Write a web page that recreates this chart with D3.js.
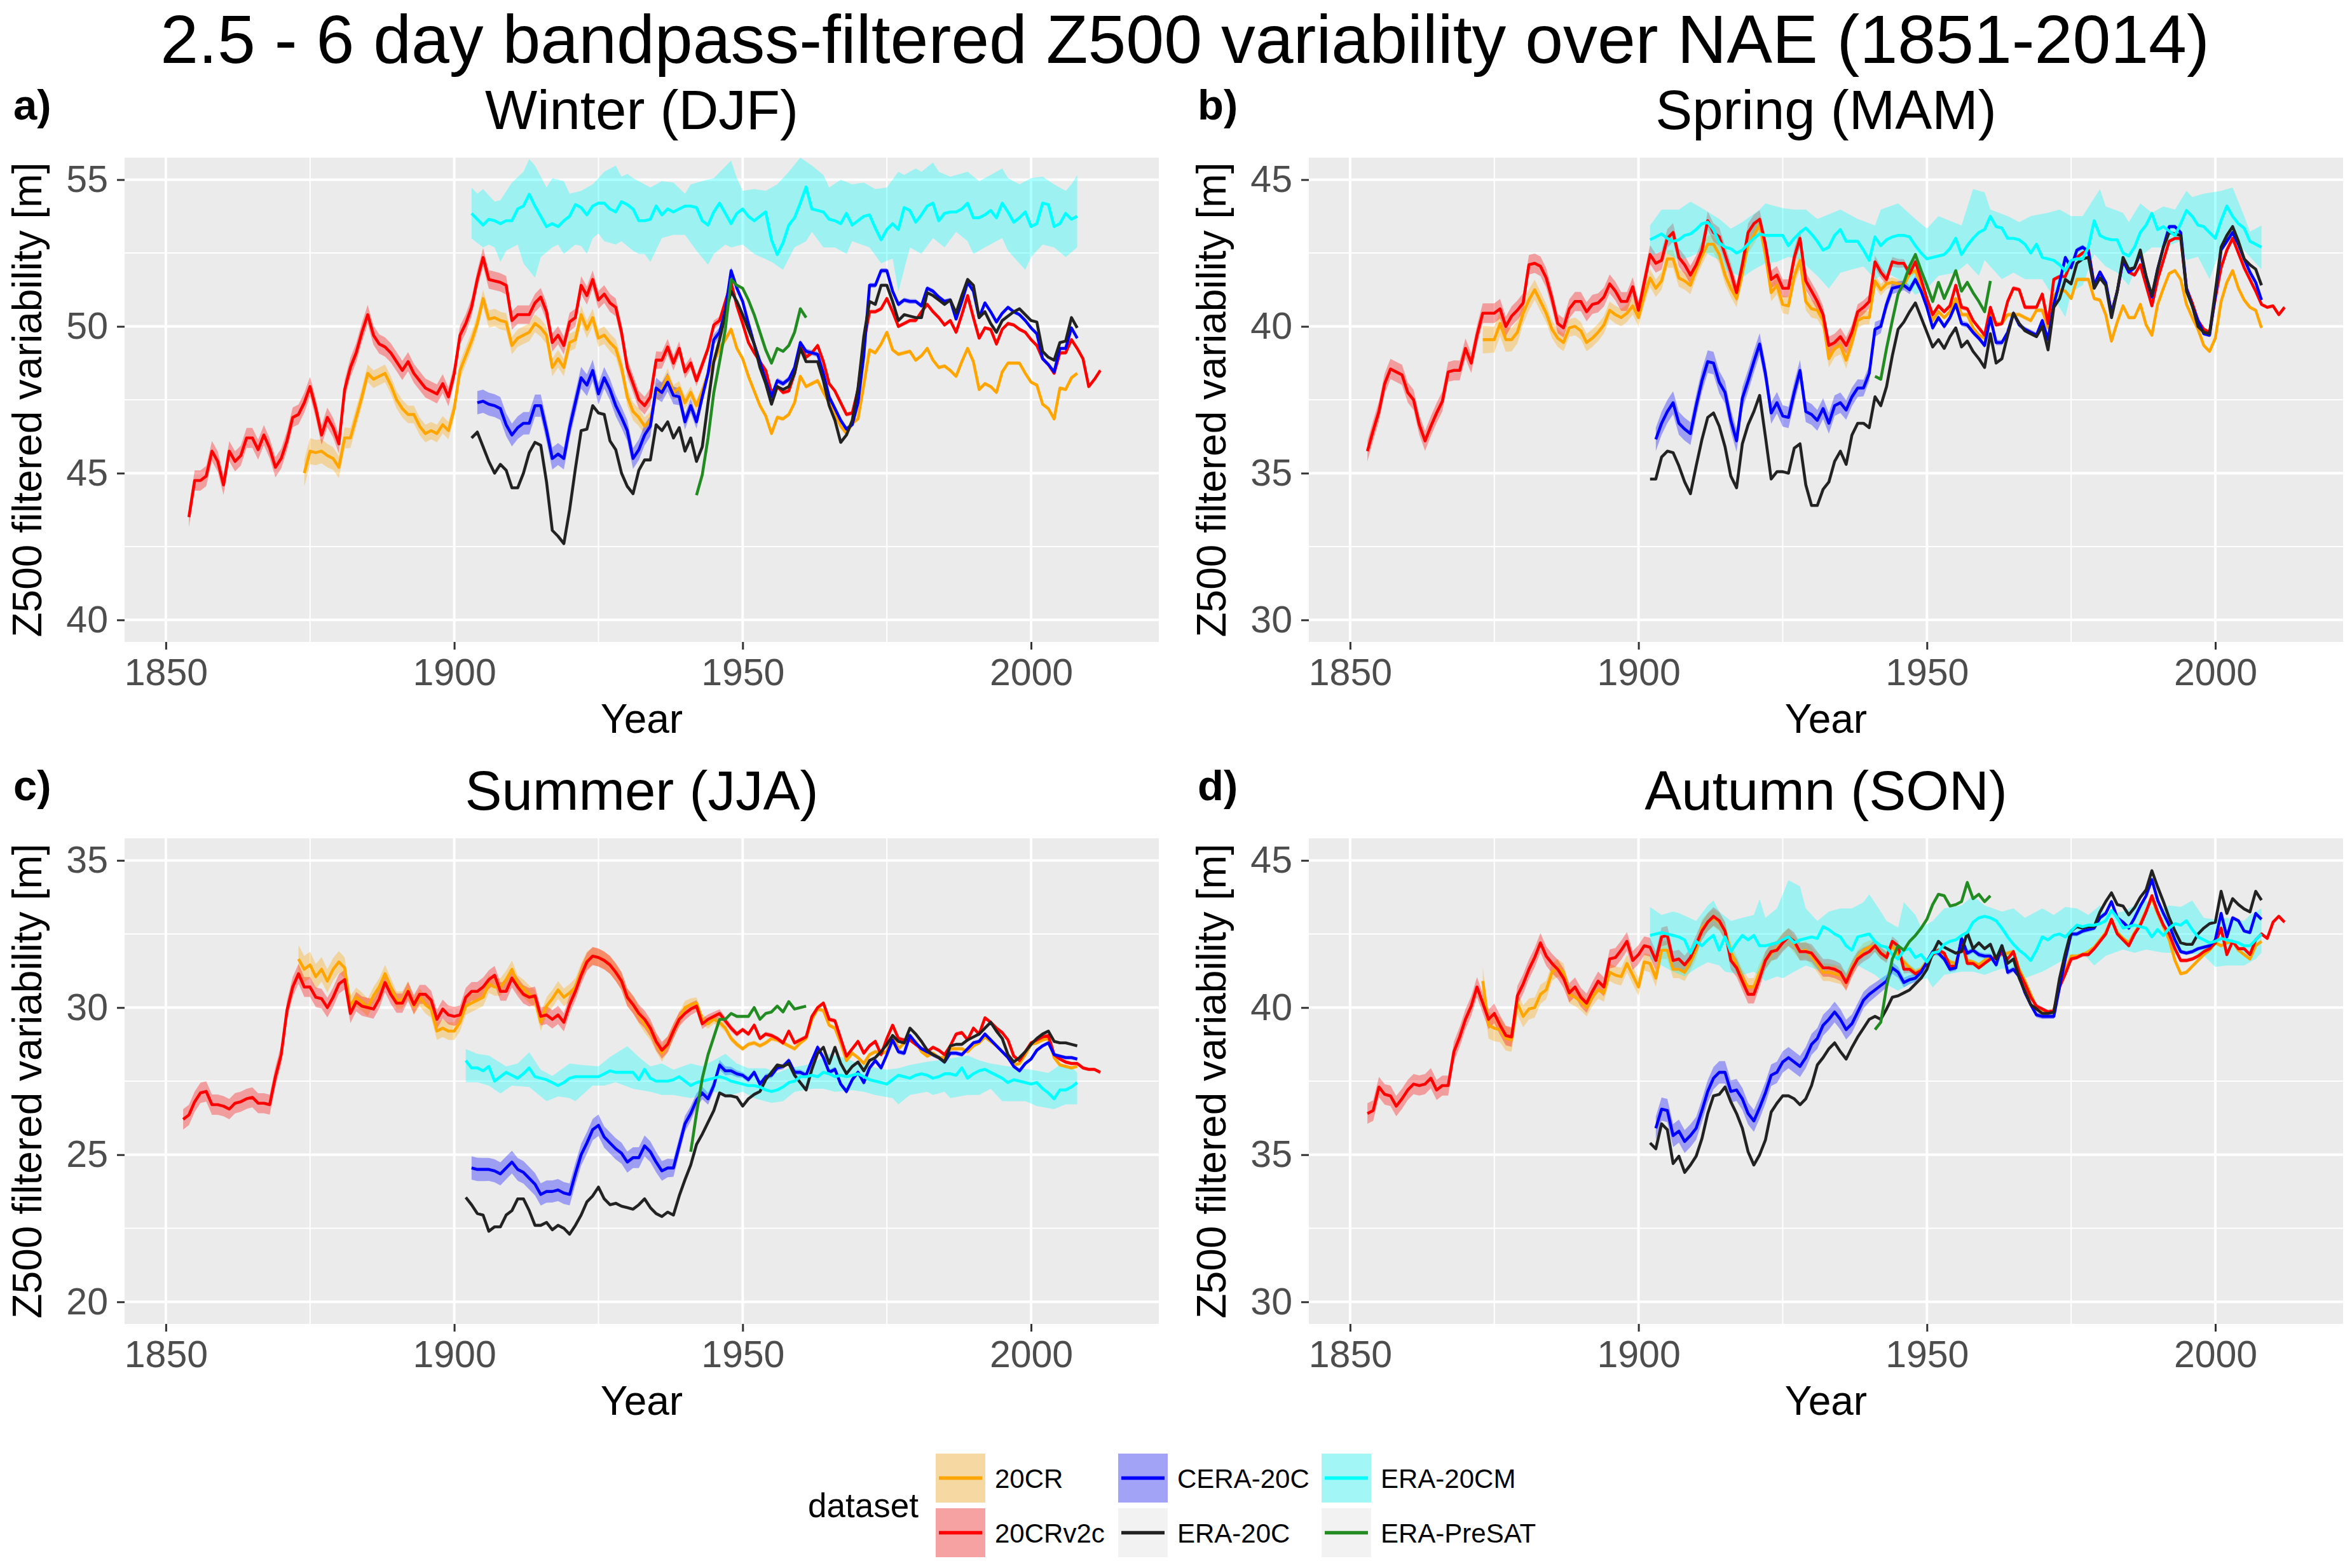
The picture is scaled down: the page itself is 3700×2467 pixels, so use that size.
<!DOCTYPE html>
<html><head><meta charset="utf-8">
<script src="https://cdn.jsdelivr.net/npm/d3@7"></script>
<style>
html,body{margin:0;padding:0;background:#fff}
svg{display:block}
text{font-family:"Liberation Sans",Arial,Helvetica,sans-serif}
</style>
</head><body>
<svg id="chart" width="3700" height="2467"></svg>
<script>
// ---------------- DATA ----------------
const datasetNames = ["20CR","20CRv2c","CERA-20C","ERA-20C","ERA-20CM","ERA-PreSAT"];
const datasetColors = ["#FFA500","#FF0000","#0000FF","#222222","#00FFFF","#228B22"];
const seasonTitles = ["Winter (DJF)","Spring (MAM)","Summer (JJA)","Autumn (SON)"];
const panelLetters = ["a)","b)","c)","d)"];
const yLimits = [[40,55],[30,45],[20,35],[30,45]];
const yTicksDJF = [40,45,50,55];
const yTicksMAM = [30,35,40,45];
const yTicksJJA = [20,25,30,35];
const yTicksSON = [30,35,40,45];
const xTicks = [1850,1900,1950,2000];
const xMinorTicks = [1875,1925,1975];
const yearRange = [1851,2014];

// ensemble half-spread of the reanalysis ribbons [year, m]
const spread20CR    = [[1871,0.5],[1885,0.3],[1935,0.3],[1950,0.08],[2012,0.06]];
const spread20CRv2c = [[1851,0.35],[1935,0.3],[1950,0.08],[2014,0.06]];
const spreadCERA    = [[1901,0.4],[1935,0.35],[1950,0.1],[2010,0.06]];

// ---- Winter (DJF) ----
const djf20CRv2c = [[1854,43.5],[1855,44.75],[1856,44.75],[1857,44.9],[1858,45.75],[1859,45.4],[1860,44.6],[1861,45.75],[1862,45.4],[1863,45.6],[1864,46.2],[1865,46.2],[1866,45.8],[1867,46.3],[1868,45.85],[1869,45.2],[1870,45.5],[1871,46.1],[1872,46.9],[1873,47.0],[1874,47.4],[1875,47.95],[1876,47.2],[1877,46.3],[1878,46.9],[1879,46.55],[1880,46.0],[1881,47.85],[1882,48.6],[1883,49.1],[1884,49.8],[1885,50.4],[1886,49.7],[1887,49.4],[1888,49.3],[1889,49.1],[1890,48.8],[1891,48.5],[1892,48.8],[1893,48.4],[1894,48.15],[1895,47.9],[1896,47.8],[1897,47.7],[1898,48.05],[1899,47.6],[1900,48.4],[1901,49.7],[1902,50.1],[1903,50.65],[1904,51.6],[1905,52.35],[1906,51.6],[1907,51.55],[1908,51.5],[1909,51.4],[1910,50.2],[1911,50.4],[1912,50.4],[1913,50.4],[1914,50.8],[1915,51.0],[1916,50.5],[1917,49.45],[1918,49.7],[1919,49.35],[1920,50.15],[1921,50.3],[1922,51.4],[1923,51.05],[1924,51.6],[1925,50.9],[1926,51.1],[1927,50.8],[1928,50.65],[1929,49.8],[1930,48.6],[1931,48.05],[1932,47.5],[1933,47.3],[1934,47.6],[1935,48.85],[1936,48.85],[1937,49.3],[1938,48.75],[1939,49.25],[1940,48.45],[1941,48.75],[1942,48.15],[1943,48.7],[1944,49.25],[1945,50.05],[1946,50.2],[1947,50.85],[1948,51.5],[1949,50.7],[1950,50.1],[1951,49.45],[1952,49.1],[1953,48.8],[1954,48.5],[1955,47.75],[1956,47.95],[1957,47.75],[1958,47.8],[1959,48.4],[1960,49.35],[1961,48.95],[1962,49.1],[1963,49.35],[1964,48.8],[1965,48.05],[1966,47.8],[1967,47.4],[1968,47.0],[1969,47.05],[1970,47.85],[1971,49.45],[1972,50.5],[1973,50.5],[1974,50.6],[1975,50.95],[1976,50.5],[1977,50.0],[1978,50.1],[1979,50.2],[1980,50.2],[1981,50.5],[1982,50.75],[1983,50.5],[1984,50.3],[1985,50.05],[1986,50.2],[1987,49.8],[1988,50.4],[1989,51.05],[1990,50.3],[1991,49.6],[1992,49.95],[1993,49.9],[1994,49.4],[1995,49.9],[1996,50.1],[1997,50.05],[1998,49.9],[1999,49.8],[2000,49.55],[2001,49.35],[2002,48.9],[2003,48.7],[2004,48.4],[2005,49.1],[2006,49.1],[2007,49.55],[2008,49.25],[2009,48.9],[2010,47.95],[2011,48.2],[2012,48.5]];
const djf20CR = [[1874,45.0],[1875,45.75],[1876,45.7],[1877,45.75],[1878,45.6],[1879,45.5],[1880,45.2],[1881,46.2],[1882,46.2],[1883,46.9],[1884,47.6],[1885,48.4],[1886,48.2],[1887,48.3],[1888,48.4],[1889,48.0],[1890,47.5],[1891,47.2],[1892,47.0],[1893,47.0],[1894,46.6],[1895,46.35],[1896,46.45],[1897,46.35],[1898,46.65],[1899,46.45],[1900,47.2],[1901,48.5],[1902,49.0],[1903,49.5],[1904,50.1],[1905,50.95],[1906,50.25],[1907,50.3],[1908,50.2],[1909,50.15],[1910,49.35],[1911,49.6],[1912,49.7],[1913,49.8],[1914,50.1],[1915,49.95],[1916,49.7],[1917,48.6],[1918,48.9],[1919,48.6],[1920,49.45],[1921,49.55],[1922,50.4],[1923,49.9],[1924,50.3],[1925,49.6],[1926,49.7],[1927,49.45],[1928,49.25],[1929,48.6],[1930,47.6],[1931,47.1],[1932,46.9],[1933,46.6],[1934,46.8],[1935,47.75],[1936,47.85],[1937,48.3],[1938,47.75],[1939,47.9],[1940,47.4],[1941,47.75],[1942,47.3],[1943,47.8],[1944,48.4],[1945,48.8],[1946,49.25],[1947,49.55],[1948,49.9],[1949,49.25],[1950,48.9],[1951,48.3],[1952,47.8],[1953,47.3],[1954,46.95],[1955,46.35],[1956,46.9],[1957,46.85],[1958,47.0],[1959,47.4],[1960,48.3],[1961,47.95],[1962,48.05],[1963,48.15],[1964,47.75],[1965,47.4],[1966,47.0],[1967,46.6],[1968,46.35],[1969,46.7],[1970,46.85],[1971,48.0],[1972,49.2],[1973,49.1],[1974,49.4],[1975,49.8],[1976,49.2],[1977,49.05],[1978,49.1],[1979,49.15],[1980,48.85],[1981,49.0],[1982,49.25],[1983,48.85],[1984,48.6],[1985,48.65],[1986,48.5],[1987,48.3],[1988,48.8],[1989,49.25],[1990,48.8],[1991,47.85],[1992,48.05],[1993,47.95],[1994,47.75],[1995,48.45],[1996,48.75],[1997,48.75],[1998,48.75],[1999,48.4],[2000,48.1],[2001,48.0],[2002,47.35],[2003,47.2],[2004,46.85],[2005,47.9],[2006,47.85],[2007,48.25],[2008,48.4]];
const djfCERA20C = [[1904,47.4],[1905,47.45],[1906,47.35],[1907,47.3],[1908,47.2],[1909,46.65],[1910,46.3],[1911,46.55],[1912,46.7],[1913,46.7],[1914,47.3],[1915,47.3],[1916,46.45],[1917,45.5],[1918,45.65],[1919,45.5],[1920,46.55],[1921,47.4],[1922,48.25],[1923,48.0],[1924,48.5],[1925,47.7],[1926,48.25],[1927,47.85],[1928,47.3],[1929,46.9],[1930,46.45],[1931,45.5],[1932,45.8],[1933,46.3],[1934,46.6],[1935,47.9],[1936,47.75],[1937,48.1],[1938,47.65],[1939,47.6],[1940,46.75],[1941,47.3],[1942,46.75],[1943,47.6],[1944,48.4],[1945,49.55],[1946,49.8],[1947,50.55],[1948,51.9],[1949,51.3],[1950,50.85],[1951,50.1],[1952,49.4],[1953,48.8],[1954,48.15],[1955,47.6],[1956,48.15],[1957,48.05],[1958,48.2],[1959,48.6],[1960,49.45],[1961,49.15],[1962,49.1],[1963,49.05],[1964,48.4],[1965,47.6],[1966,47.2],[1967,46.8],[1968,46.5],[1969,46.65],[1970,47.4],[1971,49.0],[1972,51.4],[1973,51.4],[1974,51.9],[1975,51.9],[1976,51.2],[1977,50.75],[1978,50.9],[1979,50.85],[1980,50.85],[1981,50.7],[1982,51.3],[1983,51.2],[1984,51.0],[1985,50.85],[1986,50.9],[1987,50.25],[1988,50.85],[1989,51.5],[1990,51.2],[1991,50.3],[1992,50.8],[1993,50.5],[1994,50.15],[1995,50.45],[1996,50.65],[1997,50.5],[1998,50.4],[1999,50.2],[2000,49.95],[2001,49.75],[2002,48.9],[2003,48.7],[2004,48.45],[2005,49.25],[2006,49.25],[2007,49.95],[2008,49.6]];
const djfERA20C = [[1903,46.2],[1904,46.4],[1905,45.9],[1906,45.4],[1907,45.0],[1908,45.3],[1909,45.1],[1910,44.5],[1911,44.5],[1912,45.0],[1913,45.7],[1914,46.05],[1915,45.95],[1916,44.7],[1917,43.05],[1918,42.85],[1919,42.6],[1920,43.75],[1921,45.15],[1922,46.45],[1923,46.5],[1924,47.3],[1925,47.05],[1926,47.0],[1927,46.1],[1928,45.8],[1929,45.0],[1930,44.55],[1931,44.3],[1932,45.1],[1933,45.45],[1934,45.45],[1935,46.65],[1936,46.45],[1937,46.75],[1938,46.2],[1939,46.55],[1940,45.75],[1941,46.2],[1942,45.4],[1943,45.9],[1944,47.4],[1945,48.8],[1946,49.55],[1947,50.4],[1948,51.2],[1949,50.85],[1950,50.4],[1951,49.9],[1952,49.4],[1953,48.6],[1954,48.05],[1955,47.35],[1956,47.95],[1957,47.85],[1958,47.95],[1959,48.4],[1960,49.25],[1961,48.8],[1962,48.8],[1963,48.8],[1964,48.15],[1965,47.3],[1966,46.8],[1967,46.05],[1968,46.3],[1969,46.8],[1970,47.9],[1971,49.65],[1972,50.85],[1973,50.75],[1974,51.4],[1975,51.4],[1976,50.85],[1977,50.2],[1978,50.4],[1979,50.35],[1980,50.3],[1981,50.3],[1982,51.15],[1983,51.05],[1984,50.9],[1985,50.75],[1986,50.9],[1987,50.45],[1988,51.05],[1989,51.6],[1990,51.4],[1991,50.3],[1992,50.5],[1993,50.1],[1994,49.8],[1995,50.2],[1996,50.35],[1997,50.5],[1998,50.6],[1999,50.4],[2000,50.2],[2001,50.15],[2002,49.15],[2003,48.95],[2004,48.85],[2005,49.45],[2006,49.5],[2007,50.3],[2008,49.95]];
const djfERA20CM = [[1903,53.85],[1904,53.65],[1905,53.45],[1906,53.65],[1907,53.6],[1908,53.5],[1909,53.6],[1910,53.6],[1911,54.0],[1912,54.1],[1913,54.5],[1914,54.1],[1915,53.75],[1916,53.4],[1917,53.5],[1918,53.4],[1919,53.6],[1920,53.75],[1921,54.15],[1922,54.05],[1923,53.8],[1924,54.1],[1925,54.2],[1926,54.2],[1927,54.0],[1928,53.9],[1929,54.25],[1930,54.15],[1931,54.0],[1932,53.6],[1933,53.6],[1934,53.65],[1935,54.1],[1936,53.8],[1937,54.0],[1938,53.9],[1939,54.0],[1940,54.1],[1941,54.1],[1942,54.05],[1943,53.6],[1944,53.45],[1945,53.9],[1946,54.2],[1947,53.85],[1948,53.5],[1949,53.85],[1950,54.0],[1951,53.75],[1952,53.6],[1953,53.75],[1954,53.9],[1955,52.95],[1956,52.45],[1957,52.85],[1958,53.45],[1959,53.7],[1960,54.2],[1961,54.75],[1962,54.0],[1963,53.95],[1964,53.9],[1965,53.65],[1966,53.6],[1967,53.5],[1968,53.85],[1969,53.45],[1970,53.6],[1971,53.75],[1972,53.8],[1973,53.35],[1974,52.95],[1975,53.3],[1976,53.5],[1977,53.3],[1978,54.05],[1979,53.95],[1980,53.55],[1981,53.8],[1982,54.1],[1983,54.2],[1984,53.6],[1985,53.85],[1986,53.9],[1987,53.9],[1988,54.0],[1989,54.2],[1990,53.7],[1991,53.7],[1992,53.8],[1993,53.95],[1994,53.7],[1995,54.2],[1996,53.9],[1997,53.55],[1998,53.7],[1999,53.9],[2000,53.4],[2001,53.5],[2002,54.2],[2003,54.15],[2004,53.4],[2005,53.5],[2006,53.85],[2007,53.65],[2008,53.75]];
const djfERA20CMhi = [[1903,54.73],[1904,54.52],[1905,54.68],[1907,54.25],[1908,54.3],[1910,54.9],[1912,55.27],[1913,55.7],[1914,55.48],[1916,54.73],[1917,55.05],[1919,54.95],[1920,54.52],[1922,54.62],[1924,54.84],[1925,55.05],[1926,55.27],[1928,55.48],[1929,55.1],[1930,55.2],[1931,55.05],[1932,54.95],[1934,54.73],[1936,54.95],[1938,54.9],[1940,54.52],[1941,54.84],[1943,54.95],[1945,55.05],[1948,55.65],[1949,55.05],[1950,54.62],[1952,54.68],[1954,54.62],[1956,54.84],[1958,55.27],[1960,55.75],[1962,55.48],[1964,55.16],[1965,54.73],[1967,55.0],[1969,54.84],[1971,54.9],[1973,54.68],[1975,54.73],[1977,55.27],[1978,55.16],[1980,55.38],[1981,55.27],[1983,55.59],[1984,55.27],[1986,55.1],[1989,55.27],[1991,54.95],[1993,55.16],[1995,55.38],[1996,55.05],[1998,54.84],[2000,55.05],[2002,55.1],[2004,54.84],[2006,54.62],[2007,54.84],[2008,55.16]];
const djfERA20CMlo = [[1903,53.0],[1905,52.69],[1906,52.79],[1907,52.69],[1908,52.2],[1909,52.58],[1911,52.79],[1912,52.15],[1914,51.66],[1915,52.36],[1917,52.69],[1918,52.79],[1919,52.47],[1921,52.79],[1922,52.74],[1923,52.47],[1924,53.0],[1925,53.17],[1926,52.9],[1928,52.79],[1929,52.9],[1931,52.58],[1932,52.47],[1933,52.47],[1934,52.2],[1936,53.01],[1938,53.12],[1940,53.12],[1942,52.58],[1944,52.1],[1945,52.47],[1947,52.79],[1948,52.69],[1950,52.79],[1952,52.47],[1955,52.2],[1957,51.93],[1959,52.69],[1961,52.9],[1962,53.22],[1964,52.69],[1966,52.69],[1968,52.47],[1969,52.9],[1972,52.69],[1974,52.15],[1976,52.31],[1977,51.18],[1979,52.69],[1981,52.47],[1983,53.01],[1985,52.69],[1987,53.22],[1989,52.9],[1990,52.47],[1992,52.69],[1995,53.01],[1996,52.58],[1999,51.93],[2000,52.36],[2002,52.79],[2004,52.69],[2006,52.36],[2008,52.69]];
const djfPreSAT = [[1942,44.25],[1943,44.95],[1944,46.2],[1945,47.75],[1946,48.8],[1947,49.9],[1948,51.6],[1949,51.4],[1950,51.3],[1951,50.9],[1952,50.4],[1953,49.8],[1954,49.2],[1955,48.75],[1956,49.25],[1957,49.15],[1958,49.35],[1959,49.8],[1960,50.6],[1961,50.3]];

// ---- Spring (MAM) ----
const mam20CRv2c = [[1853,35.75],[1854,36.45],[1855,37.1],[1856,38.05],[1857,38.55],[1858,38.45],[1859,38.35],[1860,37.75],[1861,37.5],[1862,36.65],[1863,36.1],[1864,36.6],[1865,37.05],[1866,37.45],[1867,38.45],[1868,38.5],[1869,38.5],[1870,39.25],[1871,38.75],[1872,39.7],[1873,40.45],[1874,40.45],[1875,40.45],[1876,40.6],[1877,40.0],[1878,40.35],[1879,40.55],[1880,40.8],[1881,42.1],[1882,42.15],[1883,42.05],[1884,41.65],[1885,40.95],[1886,40.1],[1887,39.95],[1888,40.6],[1889,40.85],[1890,40.85],[1891,40.5],[1892,40.75],[1893,40.8],[1894,41.0],[1895,41.45],[1896,41.2],[1897,40.85],[1898,40.85],[1899,41.35],[1900,40.55],[1901,41.5],[1902,42.45],[1903,42.15],[1904,42.25],[1905,43.0],[1906,43.2],[1907,42.35],[1908,42.1],[1909,41.75],[1910,42.1],[1911,42.6],[1912,43.6],[1913,43.2],[1914,43.05],[1915,42.45],[1916,41.85],[1917,41.15],[1918,42.1],[1919,43.2],[1920,43.5],[1921,43.65],[1922,42.8],[1923,41.6],[1924,41.75],[1925,41.3],[1926,41.3],[1927,42.35],[1928,43.0],[1929,41.55],[1930,41.2],[1931,40.85],[1932,40.4],[1933,39.35],[1934,39.45],[1935,39.65],[1936,39.35],[1937,39.8],[1938,40.5],[1939,40.65],[1940,40.85],[1941,42.2],[1942,41.85],[1943,41.6],[1944,42.2],[1945,42.15],[1946,42.15],[1947,41.8],[1948,42.2],[1949,41.6],[1950,40.95],[1951,40.4],[1952,40.7],[1953,40.5],[1954,40.7],[1955,41.4],[1956,40.65],[1957,40.6],[1958,40.2],[1959,39.95],[1960,39.7],[1961,40.65],[1962,40.05],[1963,40.1],[1964,40.85],[1965,41.3],[1966,41.25],[1967,40.65],[1968,40.65],[1969,40.65],[1970,41.1],[1971,40.1],[1972,41.6],[1973,41.7],[1974,41.7],[1975,42.2],[1976,42.35],[1977,42.5],[1978,42.6],[1979,41.4],[1980,41.85],[1981,41.45],[1982,40.45],[1983,41.2],[1984,42.25],[1985,41.85],[1986,41.75],[1987,42.1],[1988,41.4],[1989,40.7],[1990,41.6],[1991,42.25],[1992,42.9],[1993,43.0],[1994,43.0],[1995,41.3],[1996,40.8],[1997,40.2],[1998,39.9],[1999,39.8],[2000,40.95],[2001,42.0],[2002,42.6],[2003,43.0],[2004,42.5],[2005,42.0],[2006,41.6],[2007,41.2],[2008,40.75],[2009,40.65],[2010,40.7],[2011,40.4],[2012,40.65]];
const mam20CR = [[1873,39.55],[1874,39.55],[1875,39.55],[1876,40.1],[1877,39.55],[1878,39.55],[1879,39.8],[1880,40.45],[1881,40.9],[1882,41.25],[1883,40.85],[1884,40.45],[1885,39.9],[1886,39.6],[1887,39.45],[1888,39.95],[1889,40.0],[1890,39.85],[1891,39.45],[1892,39.6],[1893,39.8],[1894,40.05],[1895,40.55],[1896,40.4],[1897,40.3],[1898,40.45],[1899,40.7],[1900,40.3],[1901,41.05],[1902,41.65],[1903,41.3],[1904,41.55],[1905,42.3],[1906,42.3],[1907,41.65],[1908,41.55],[1909,41.4],[1910,41.95],[1911,42.4],[1912,42.8],[1913,42.8],[1914,42.45],[1915,41.75],[1916,41.3],[1917,40.95],[1918,41.8],[1919,42.8],[1920,43.1],[1921,43.45],[1922,42.45],[1923,41.15],[1924,41.4],[1925,40.75],[1926,40.7],[1927,41.7],[1928,42.25],[1929,40.85],[1930,40.6],[1931,40.55],[1932,40.2],[1933,38.9],[1934,39.25],[1935,39.35],[1936,38.85],[1937,39.45],[1938,40.2],[1939,40.3],[1940,40.3],[1941,41.55],[1942,41.25],[1943,41.45],[1944,41.5],[1945,41.45],[1946,41.4],[1947,41.8],[1948,41.9],[1949,41.4],[1950,40.85],[1951,40.2],[1952,40.5],[1953,40.3],[1954,40.5],[1955,40.95],[1956,40.4],[1957,40.4],[1958,39.95],[1959,39.7],[1960,39.6],[1961,40.4],[1962,40.1],[1963,40.1],[1964,40.4],[1965,40.4],[1966,40.4],[1967,40.3],[1968,40.2],[1969,40.55],[1970,40.55],[1971,39.95],[1972,41.05],[1973,41.25],[1974,41.2],[1975,40.95],[1976,41.6],[1977,41.6],[1978,41.6],[1979,40.95],[1980,40.9],[1981,40.4],[1982,39.5],[1983,40.15],[1984,40.7],[1985,40.3],[1986,40.3],[1987,40.75],[1988,40.05],[1989,39.7],[1990,40.75],[1991,41.3],[1992,41.8],[1993,41.9],[1994,41.6],[1995,40.75],[1996,40.3],[1997,39.9],[1998,39.35],[1999,39.15],[2000,39.6],[2001,40.85],[2002,41.5],[2003,41.9],[2004,41.3],[2005,40.9],[2006,40.65],[2007,40.55],[2008,39.95]];
const mamCERA20C = [[1903,36.15],[1904,36.7],[1905,37.1],[1906,37.4],[1907,36.7],[1908,36.5],[1909,36.35],[1910,37.3],[1911,38.15],[1912,38.8],[1913,38.75],[1914,38.1],[1915,37.75],[1916,36.8],[1917,36.1],[1918,37.55],[1919,38.15],[1920,38.8],[1921,39.4],[1922,38.4],[1923,37.05],[1924,37.4],[1925,36.95],[1926,36.9],[1927,37.75],[1928,38.5],[1929,37.1],[1930,37.0],[1931,36.8],[1932,37.2],[1933,36.7],[1934,37.3],[1935,37.4],[1936,37.15],[1937,37.6],[1938,37.9],[1939,37.9],[1940,38.4],[1941,39.9],[1942,40.0],[1943,40.75],[1944,41.3],[1945,41.35],[1946,41.4],[1947,41.25],[1948,41.6],[1949,41.2],[1950,40.65],[1951,39.95],[1952,40.3],[1953,40.0],[1954,40.3],[1955,40.75],[1956,40.1],[1957,40.05],[1958,39.8],[1959,39.6],[1960,39.35],[1961,40.3],[1962,39.45],[1963,39.45],[1964,39.8],[1965,40.45],[1966,40.05],[1967,39.9],[1968,39.8],[1969,39.7],[1970,40.2],[1971,39.55],[1972,40.75],[1973,41.5],[1974,42.35],[1975,42.0],[1976,42.6],[1977,42.7],[1978,42.55],[1979,41.4],[1980,41.85],[1981,41.5],[1982,40.45],[1983,41.2],[1984,42.25],[1985,41.85],[1986,42.0],[1987,42.5],[1988,41.7],[1989,41.0],[1990,41.95],[1991,42.7],[1992,43.4],[1993,43.4],[1994,43.2],[1995,41.3],[1996,40.7],[1997,40.2],[1998,39.75],[1999,39.7],[2000,41.05],[2001,42.6],[2002,42.9],[2003,43.2],[2004,42.8],[2005,42.3],[2006,41.85],[2007,41.5],[2008,40.9]];
const mamERA20C = [[1902,34.8],[1903,34.8],[1904,35.55],[1905,35.75],[1906,35.7],[1907,35.25],[1908,34.7],[1909,34.3],[1910,35.25],[1911,36.15],[1912,36.9],[1913,37.05],[1914,36.6],[1915,35.9],[1916,34.9],[1917,34.5],[1918,36.0],[1919,36.65],[1920,37.1],[1921,37.65],[1922,36.25],[1923,34.8],[1924,35.05],[1925,35.05],[1926,35.0],[1927,35.85],[1928,36.0],[1929,34.6],[1930,33.9],[1931,33.9],[1932,34.45],[1933,34.7],[1934,35.4],[1935,35.75],[1936,35.3],[1937,36.3],[1938,36.7],[1939,36.7],[1940,36.55],[1941,37.6],[1942,37.3],[1943,37.95],[1944,39.0],[1945,39.9],[1946,40.15],[1947,40.5],[1948,40.8],[1949,40.3],[1950,39.8],[1951,39.3],[1952,39.55],[1953,39.25],[1954,39.65],[1955,39.95],[1956,39.3],[1957,39.5],[1958,39.15],[1959,38.9],[1960,38.6],[1961,39.75],[1962,38.75],[1963,38.9],[1964,39.7],[1965,40.45],[1966,40.1],[1967,39.85],[1968,39.75],[1969,39.65],[1970,40.0],[1971,39.2],[1972,40.65],[1973,40.95],[1974,41.6],[1975,41.45],[1976,42.15],[1977,42.3],[1978,42.35],[1979,41.3],[1980,41.65],[1981,41.4],[1982,40.3],[1983,41.2],[1984,42.35],[1985,41.95],[1986,42.0],[1987,42.6],[1988,41.7],[1989,41.05],[1990,41.95],[1991,42.7],[1992,43.2],[1993,43.15],[1994,43.1],[1995,41.2],[1996,40.7],[1997,40.0],[1998,39.8],[1999,39.75],[2000,41.2],[2001,42.7],[2002,43.1],[2003,43.4],[2004,42.9],[2005,42.3],[2006,42.1],[2007,41.95],[2008,41.4]];
const mamERA20CM = [[1902,42.95],[1903,43.05],[1904,43.15],[1905,43.0],[1906,42.9],[1907,42.95],[1908,43.1],[1909,43.15],[1910,43.3],[1911,43.5],[1912,43.55],[1913,43.3],[1914,42.85],[1915,42.7],[1916,42.65],[1917,42.5],[1918,42.6],[1919,42.8],[1920,43.0],[1921,43.15],[1922,43.1],[1923,43.1],[1924,43.1],[1925,43.1],[1926,42.75],[1927,43.0],[1928,43.2],[1929,43.35],[1930,43.15],[1931,42.9],[1932,42.6],[1933,42.7],[1934,43.1],[1935,43.3],[1936,42.9],[1937,42.9],[1938,42.9],[1939,42.6],[1940,42.25],[1941,43.05],[1942,42.75],[1943,42.95],[1944,43.05],[1945,43.1],[1946,43.1],[1947,43.05],[1948,42.75],[1949,42.5],[1950,42.3],[1951,42.35],[1952,42.4],[1953,42.45],[1954,42.65],[1955,43.0],[1956,42.45],[1957,42.75],[1958,43.0],[1959,43.2],[1960,43.3],[1961,43.75],[1962,43.4],[1963,43.35],[1964,43.0],[1965,43.0],[1966,42.95],[1967,42.8],[1968,42.5],[1969,42.8],[1970,42.35],[1971,42.3],[1972,42.25],[1973,42.1],[1974,41.9],[1975,42.25],[1976,42.3],[1977,42.3],[1978,42.7],[1979,43.6],[1980,43.1],[1981,43.0],[1982,42.95],[1983,42.95],[1984,42.5],[1985,42.4],[1986,42.7],[1987,43.2],[1988,43.45],[1989,43.85],[1990,43.3],[1991,43.4],[1992,43.25],[1993,43.1],[1994,43.5],[1995,43.95],[1996,43.75],[1997,43.45],[1998,43.4],[1999,43.2],[2000,43.0],[2001,43.6],[2002,44.1],[2003,43.75],[2004,43.5],[2005,43.35],[2006,42.9],[2007,42.8],[2008,42.7]];
const mamERA20CMhi = [[1902,43.44],[1904,43.98],[1907,43.98],[1909,44.25],[1911,44.03],[1914,43.66],[1916,43.33],[1918,43.55],[1921,43.98],[1922,44.19],[1925,44.03],[1927,43.98],[1929,43.98],[1931,43.66],[1935,43.98],[1938,43.66],[1941,43.44],[1942,43.98],[1945,44.19],[1948,43.66],[1950,43.33],[1952,43.76],[1956,43.44],[1958,44.68],[1960,44.57],[1961,43.98],[1964,43.76],[1966,43.55],[1968,43.76],[1971,43.87],[1973,43.98],[1975,43.76],[1977,43.76],[1980,44.68],[1981,44.09],[1984,43.87],[1985,43.55],[1987,44.19],[1989,43.87],[1991,44.09],[1993,43.98],[1995,44.62],[1996,44.41],[1998,44.52],[2001,44.62],[2003,44.73],[2005,43.76],[2006,43.23],[2008,43.44]];
const mamERA20CMlo = [[1902,42.37],[1904,42.58],[1907,42.26],[1909,42.37],[1911,42.58],[1914,42.26],[1915,41.94],[1918,41.67],[1920,41.94],[1922,42.15],[1924,42.2],[1926,42.37],[1928,42.26],[1931,41.72],[1933,41.29],[1935,41.83],[1937,41.94],[1939,42.04],[1941,41.61],[1943,41.83],[1946,41.51],[1948,41.08],[1950,41.29],[1952,41.72],[1955,41.83],[1957,42.15],[1959,41.72],[1960,42.26],[1963,41.61],[1965,41.83],[1967,41.61],[1970,41.61],[1972,40.97],[1974,40.32],[1975,41.18],[1977,41.4],[1979,42.47],[1981,42.04],[1983,41.83],[1985,41.4],[1987,42.37],[1989,42.69],[1991,42.69],[1994,42.9],[1995,42.26],[1997,42.37],[1999,41.61],[2001,42.69],[2003,43.01],[2006,42.37],[2008,41.94]];
const mamPreSAT = [[1941,38.3],[1942,38.2],[1943,39.25],[1944,40.2],[1945,41.1],[1946,41.5],[1947,42.05],[1948,42.45],[1949,41.9],[1950,41.4],[1951,40.85],[1952,41.5],[1953,40.95],[1954,41.4],[1955,41.9],[1956,41.2],[1957,41.5],[1958,41.15],[1959,40.85],[1960,40.5],[1961,41.55]];

// ---- Summer (JJA) ----
const jja20CRv2c = [[1853,26.2],[1854,26.35],[1855,26.8],[1856,27.1],[1857,27.15],[1858,26.7],[1859,26.7],[1860,26.65],[1861,26.55],[1862,26.75],[1863,26.8],[1864,26.9],[1865,26.95],[1866,26.75],[1867,26.75],[1868,26.7],[1869,27.65],[1870,28.4],[1871,29.9],[1872,30.7],[1873,31.15],[1874,30.7],[1875,30.7],[1876,30.35],[1877,30.3],[1878,30.0],[1879,30.35],[1880,30.8],[1881,30.95],[1882,29.8],[1883,30.2],[1884,30.05],[1885,30.0],[1886,29.95],[1887,30.3],[1888,30.85],[1889,30.45],[1890,30.15],[1891,30.15],[1892,30.55],[1893,30.1],[1894,30.45],[1895,30.45],[1896,30.25],[1897,29.6],[1898,29.95],[1899,29.75],[1900,29.7],[1901,29.75],[1902,30.35],[1903,30.55],[1904,30.55],[1905,30.7],[1906,30.95],[1907,31.1],[1908,30.55],[1909,30.55],[1910,31.0],[1911,30.7],[1912,30.45],[1913,30.35],[1914,30.4],[1915,29.7],[1916,29.75],[1917,29.6],[1918,29.75],[1919,29.5],[1920,30.1],[1921,30.55],[1922,31.1],[1923,31.55],[1924,31.75],[1925,31.7],[1926,31.6],[1927,31.45],[1928,31.2],[1929,30.9],[1930,30.35],[1931,30.1],[1932,29.8],[1933,29.6],[1934,29.3],[1935,28.85],[1936,28.55],[1937,28.75],[1938,29.2],[1939,29.6],[1940,29.8],[1941,29.95],[1942,30.05],[1943,29.45],[1944,29.6],[1945,29.7],[1946,29.8],[1947,29.55],[1948,29.3],[1949,29.1],[1950,29.25],[1951,29.1],[1952,29.4],[1953,28.95],[1954,29.1],[1955,29.05],[1956,28.95],[1957,28.8],[1958,29.2],[1959,28.8],[1960,28.9],[1961,29.0],[1962,29.7],[1963,30.0],[1964,30.15],[1965,29.6],[1966,29.55],[1967,28.95],[1968,28.35],[1969,28.6],[1970,28.85],[1971,28.45],[1972,28.7],[1973,28.85],[1974,28.4],[1975,28.95],[1976,29.4],[1977,28.95],[1978,28.9],[1979,28.9],[1980,28.75],[1981,28.6],[1982,28.5],[1983,28.65],[1984,28.55],[1985,28.4],[1986,28.7],[1987,29.1],[1988,29.15],[1989,28.9],[1990,29.3],[1991,29.1],[1992,29.65],[1993,29.5],[1994,29.3],[1995,29.15],[1996,28.9],[1997,28.35],[1998,28.2],[1999,28.5],[2000,28.8],[2001,28.9],[2002,29.0],[2003,29.05],[2004,28.4],[2005,28.25],[2006,28.15],[2007,28.1],[2008,28.1],[2009,27.95],[2010,27.9],[2011,27.9],[2012,27.8]];
const jja20CR = [[1873,31.65],[1874,31.3],[1875,31.45],[1876,31.05],[1877,31.3],[1878,30.9],[1879,31.3],[1880,31.55],[1881,31.35],[1882,30.05],[1883,30.35],[1884,30.2],[1885,30.0],[1886,30.4],[1887,30.7],[1888,31.15],[1889,30.7],[1890,30.25],[1891,30.25],[1892,30.6],[1893,30.05],[1894,30.35],[1895,30.1],[1896,29.95],[1897,29.2],[1898,29.3],[1899,29.2],[1900,29.2],[1901,29.5],[1902,30.05],[1903,30.15],[1904,30.25],[1905,30.35],[1906,30.8],[1907,30.7],[1908,30.7],[1909,30.95],[1910,31.3],[1911,30.8],[1912,30.65],[1913,30.45],[1914,30.3],[1915,29.5],[1916,30.05],[1917,30.3],[1918,30.6],[1919,30.35],[1920,30.5],[1921,30.7],[1922,31.2],[1923,31.6],[1924,31.75],[1925,31.7],[1926,31.6],[1927,31.45],[1928,31.2],[1929,30.9],[1930,30.35],[1931,30.1],[1932,29.75],[1933,29.45],[1934,29.2],[1935,28.8],[1936,28.45],[1937,28.75],[1938,29.2],[1939,29.6],[1940,30.0],[1941,30.1],[1942,30.15],[1943,29.6],[1944,29.45],[1945,29.6],[1946,29.5],[1947,29.3],[1948,28.95],[1949,28.75],[1950,28.6],[1951,28.75],[1952,28.8],[1953,28.7],[1954,28.8],[1955,28.95],[1956,28.9],[1957,28.8],[1958,28.7],[1959,28.6],[1960,28.8],[1961,28.95],[1962,29.6],[1963,29.95],[1964,29.9],[1965,29.4],[1966,29.3],[1967,28.8],[1968,28.2],[1969,28.45],[1970,28.3],[1971,28.1],[1972,28.4],[1973,28.5],[1974,28.45],[1975,28.5],[1976,29.05],[1977,28.6],[1978,28.8],[1979,28.95],[1980,28.85],[1981,28.5],[1982,28.35],[1983,28.45],[1984,28.3],[1985,28.3],[1986,28.6],[1987,28.6],[1988,28.6],[1989,28.5],[1990,28.7],[1991,28.8],[1992,29.0],[1993,28.85],[1994,28.7],[1995,28.5],[1996,28.3],[1997,28.05],[1998,28.1],[1999,28.4],[2000,28.75],[2001,28.8],[2002,28.9],[2003,28.95],[2004,28.3],[2005,28.05],[2006,28.0],[2007,27.95],[2008,28.0]];
const jjaCERA20C = [[1903,24.55],[1904,24.5],[1905,24.5],[1906,24.5],[1907,24.45],[1908,24.35],[1909,24.55],[1910,24.75],[1911,24.5],[1912,24.4],[1913,24.2],[1914,24.0],[1915,23.65],[1916,23.75],[1917,23.75],[1918,23.8],[1919,23.7],[1920,23.65],[1921,24.35],[1922,25.0],[1923,25.4],[1924,25.85],[1925,26.0],[1926,25.6],[1927,25.4],[1928,25.2],[1929,25.05],[1930,24.75],[1931,24.9],[1932,24.9],[1933,25.3],[1934,25.1],[1935,24.75],[1936,24.45],[1937,24.55],[1938,24.55],[1939,25.3],[1940,26.05],[1941,26.4],[1942,26.85],[1943,27.1],[1944,26.9],[1945,27.35],[1946,28.05],[1947,27.85],[1948,27.85],[1949,27.75],[1950,27.7],[1951,27.55],[1952,27.8],[1953,27.4],[1954,27.65],[1955,27.7],[1956,27.95],[1957,28.0],[1958,28.2],[1959,27.8],[1960,27.8],[1961,27.7],[1962,28.2],[1963,28.65],[1964,28.3],[1965,27.8],[1966,27.9],[1967,27.4],[1968,27.15],[1969,27.55],[1970,27.8],[1971,27.45],[1972,27.95],[1973,28.2],[1974,27.95],[1975,28.4],[1976,28.9],[1977,28.5],[1978,28.45],[1979,29.05],[1980,28.8],[1981,28.6],[1982,28.5],[1983,28.4],[1984,28.3],[1985,28.15],[1986,28.45],[1987,28.45],[1988,28.4],[1989,28.6],[1990,28.8],[1991,28.85],[1992,29.1],[1993,28.9],[1994,28.7],[1995,28.5],[1996,28.3],[1997,28.0],[1998,27.85],[1999,28.1],[2000,28.25],[2001,28.55],[2002,28.7],[2003,28.8],[2004,28.4],[2005,28.35],[2006,28.3],[2007,28.3],[2008,28.25]];
const jjaERA20C = [[1902,23.55],[1903,23.3],[1904,23.0],[1905,22.95],[1906,22.4],[1907,22.55],[1908,22.55],[1909,22.95],[1910,23.1],[1911,23.5],[1912,23.5],[1913,23.1],[1914,22.6],[1915,22.6],[1916,22.7],[1917,22.45],[1918,22.6],[1919,22.5],[1920,22.3],[1921,22.6],[1922,22.95],[1923,23.4],[1924,23.6],[1925,23.9],[1926,23.5],[1927,23.3],[1928,23.35],[1929,23.25],[1930,23.2],[1931,23.15],[1932,23.3],[1933,23.5],[1934,23.2],[1935,23.0],[1936,22.9],[1937,23.05],[1938,22.95],[1939,23.6],[1940,24.15],[1941,24.65],[1942,25.35],[1943,25.7],[1944,26.1],[1945,26.5],[1946,27.1],[1947,27.0],[1948,27.0],[1949,26.95],[1950,26.65],[1951,26.9],[1952,27.05],[1953,27.15],[1954,27.55],[1955,27.8],[1956,28.05],[1957,28.0],[1958,28.1],[1959,27.7],[1960,27.45],[1961,27.2],[1962,27.9],[1963,28.45],[1964,28.65],[1965,28.1],[1966,28.65],[1967,28.1],[1968,27.75],[1969,28.0],[1970,28.15],[1971,27.85],[1972,28.2],[1973,28.3],[1974,28.5],[1975,28.75],[1976,29.05],[1977,28.85],[1978,28.8],[1979,29.3],[1980,29.1],[1981,28.85],[1982,28.55],[1983,28.4],[1984,28.3],[1985,28.15],[1986,28.7],[1987,28.75],[1988,28.75],[1989,28.9],[1990,29.0],[1991,29.1],[1992,29.3],[1993,29.5],[1994,29.2],[1995,28.95],[1996,28.4],[1997,28.15],[1998,28.3],[1999,28.5],[2000,28.75],[2001,28.95],[2002,29.1],[2003,29.2],[2004,28.85],[2005,28.8],[2006,28.8],[2007,28.75],[2008,28.7]];
const jjaERA20CM = [[1902,28.2],[1903,27.95],[1904,27.95],[1905,27.85],[1906,28.0],[1907,27.5],[1908,27.65],[1909,27.8],[1910,27.7],[1911,27.6],[1912,27.75],[1913,27.95],[1914,27.65],[1915,27.6],[1916,27.55],[1917,27.45],[1918,27.35],[1919,27.45],[1920,27.6],[1921,27.65],[1922,27.65],[1923,27.65],[1924,27.65],[1925,27.65],[1926,27.75],[1927,27.85],[1928,27.8],[1929,27.8],[1930,27.8],[1931,27.8],[1932,27.55],[1933,27.9],[1934,27.6],[1935,27.5],[1936,27.5],[1937,27.5],[1938,27.55],[1939,27.65],[1940,27.5],[1941,27.35],[1942,27.45],[1943,27.5],[1944,27.55],[1945,27.6],[1946,27.65],[1947,27.6],[1948,27.5],[1949,27.45],[1950,27.4],[1951,27.35],[1952,27.35],[1953,27.3],[1954,27.2],[1955,27.15],[1956,27.2],[1957,27.3],[1958,27.45],[1959,27.5],[1960,27.65],[1961,27.65],[1962,27.7],[1963,27.65],[1964,27.8],[1965,27.75],[1966,27.65],[1967,27.7],[1968,27.65],[1969,27.7],[1970,27.75],[1971,27.65],[1972,27.55],[1973,27.5],[1974,27.45],[1975,27.4],[1976,27.55],[1977,27.7],[1978,27.65],[1979,27.6],[1980,27.7],[1981,27.75],[1982,27.7],[1983,27.6],[1984,27.65],[1985,27.75],[1986,27.75],[1987,27.7],[1988,27.95],[1989,27.6],[1990,27.75],[1991,27.85],[1992,27.9],[1993,27.8],[1994,27.7],[1995,27.6],[1996,27.45],[1997,27.55],[1998,27.5],[1999,27.45],[2000,27.4],[2001,27.45],[2002,27.25],[2003,27.1],[2004,26.9],[2005,27.2],[2006,27.2],[2007,27.3],[2008,27.45]];
const jjaERA20CMhi = [[1902,28.59],[1904,28.43],[1906,28.37],[1909,28.0],[1911,28.1],[1913,28.48],[1915,27.89],[1917,27.68],[1920,28.1],[1922,28.05],[1925,28.0],[1927,28.32],[1930,28.69],[1932,28.32],[1934,28.0],[1936,28.1],[1938,27.89],[1941,28.1],[1943,28.0],[1945,28.21],[1947,28.43],[1949,28.1],[1951,27.94],[1954,27.94],[1956,27.78],[1958,27.94],[1961,28.05],[1963,28.21],[1965,28.43],[1968,28.27],[1970,28.1],[1972,28.0],[1975,27.89],[1977,27.94],[1979,28.05],[1982,28.16],[1984,28.21],[1986,28.27],[1989,28.37],[1991,28.21],[1993,28.1],[1996,28.0],[1998,27.94],[2000,27.89],[2003,27.78],[2005,28.05],[2007,28.0],[2008,27.78]];
const jjaERA20CMlo = [[1902,27.46],[1904,27.46],[1906,27.35],[1908,27.08],[1910,27.35],[1913,27.3],[1916,26.82],[1918,26.98],[1920,26.92],[1921,26.82],[1924,27.35],[1926,27.35],[1928,27.46],[1931,27.24],[1934,27.14],[1936,27.03],[1938,27.03],[1941,26.92],[1943,27.03],[1945,27.14],[1948,27.03],[1950,27.14],[1952,26.92],[1955,26.76],[1957,26.82],[1959,27.14],[1962,27.24],[1964,27.24],[1966,27.14],[1969,27.19],[1971,27.14],[1973,27.03],[1976,26.92],[1977,26.71],[1979,27.03],[1982,27.14],[1983,27.03],[1985,27.14],[1986,26.92],[1989,27.03],[1991,27.03],[1993,27.24],[1995,26.82],[1997,26.82],[1999,26.82],[2001,26.65],[2004,26.55],[2006,26.71],[2008,26.71]];
const jjaPreSAT = [[1941,25.1],[1942,26.4],[1943,27.6],[1944,28.4],[1945,29.0],[1946,29.6],[1947,29.6],[1948,29.8],[1949,29.7],[1950,29.7],[1951,29.7],[1952,30.0],[1953,29.6],[1954,29.8],[1955,29.85],[1956,30.05],[1957,29.85],[1958,30.2],[1959,29.95],[1960,30.0],[1961,30.05]];

// ---- Autumn (SON) ----
const son20CRv2c = [[1853,36.4],[1854,36.5],[1855,37.3],[1856,37.05],[1857,37.0],[1858,36.65],[1859,36.9],[1860,37.2],[1861,37.4],[1862,37.35],[1863,37.4],[1864,37.6],[1865,37.2],[1866,37.35],[1867,37.35],[1868,38.5],[1869,39.0],[1870,39.6],[1871,40.05],[1872,40.7],[1873,40.15],[1874,39.6],[1875,39.8],[1876,39.4],[1877,39.05],[1878,39.0],[1879,40.4],[1880,40.8],[1881,41.3],[1882,41.7],[1883,42.2],[1884,41.75],[1885,41.5],[1886,41.3],[1887,41.0],[1888,40.5],[1889,40.7],[1890,40.35],[1891,40.15],[1892,40.55],[1893,40.9],[1894,40.7],[1895,41.65],[1896,41.7],[1897,41.95],[1898,42.25],[1899,41.6],[1900,41.8],[1901,42.1],[1902,42.05],[1903,41.6],[1904,42.4],[1905,42.45],[1906,41.6],[1907,41.65],[1908,41.45],[1909,41.7],[1910,42.15],[1911,42.6],[1912,42.9],[1913,43.1],[1914,42.95],[1915,42.6],[1916,41.6],[1917,41.35],[1918,40.9],[1919,40.45],[1920,40.45],[1921,41.0],[1922,41.6],[1923,41.9],[1924,41.95],[1925,42.2],[1926,42.4],[1927,42.25],[1928,41.9],[1929,41.9],[1930,41.85],[1931,41.6],[1932,41.35],[1933,41.35],[1934,41.3],[1935,41.2],[1936,40.85],[1937,41.3],[1938,41.65],[1939,41.8],[1940,41.9],[1941,42.1],[1942,41.85],[1943,41.7],[1944,42.25],[1945,42.1],[1946,41.3],[1947,41.3],[1948,41.15],[1949,41.25],[1950,41.5],[1951,41.8],[1952,41.95],[1953,41.85],[1954,41.4],[1955,41.4],[1956,42.3],[1957,41.5],[1958,41.5],[1959,41.35],[1960,41.5],[1961,41.65],[1962,41.7],[1963,41.85],[1964,41.65],[1965,41.9],[1966,41.2],[1967,40.8],[1968,40.35],[1969,40.05],[1970,39.95],[1971,39.85],[1972,39.9],[1973,40.7],[1974,41.15],[1975,41.65],[1976,41.7],[1977,41.8],[1978,41.8],[1979,42.0],[1980,42.25],[1981,42.5],[1982,43.0],[1983,42.5],[1984,42.3],[1985,42.1],[1986,42.5],[1987,42.8],[1988,43.25],[1989,43.8],[1990,43.25],[1991,42.8],[1992,42.5],[1993,42.0],[1994,41.6],[1995,41.6],[1996,41.65],[1997,41.75],[1998,41.9],[1999,42.0],[2000,42.2],[2001,42.7],[2002,41.8],[2003,42.25],[2004,42.0],[2005,42.0],[2006,41.8],[2007,42.3],[2008,42.5],[2009,42.35],[2010,42.9],[2011,43.1],[2012,42.9]];
const son20CR = [[1873,40.9],[1874,39.4],[1875,39.3],[1876,39.25],[1877,38.95],[1878,38.9],[1879,40.15],[1880,39.7],[1881,39.95],[1882,40.0],[1883,40.45],[1884,40.6],[1885,41.2],[1886,41.35],[1887,41.2],[1888,40.45],[1889,40.35],[1890,40.2],[1891,40.0],[1892,40.35],[1893,40.6],[1894,40.5],[1895,41.2],[1896,41.1],[1897,41.05],[1898,41.5],[1899,41.1],[1900,40.7],[1901,41.55],[1902,41.5],[1903,41.0],[1904,41.95],[1905,41.95],[1906,41.3],[1907,41.3],[1908,41.2],[1909,41.55],[1910,41.95],[1911,42.7],[1912,42.9],[1913,43.05],[1914,42.9],[1915,42.6],[1916,41.9],[1917,41.45],[1918,41.0],[1919,40.7],[1920,40.7],[1921,41.2],[1922,41.6],[1923,41.85],[1924,42.0],[1925,42.25],[1926,42.4],[1927,42.15],[1928,41.9],[1929,41.95],[1930,41.75],[1931,41.5],[1932,41.2],[1933,41.2],[1934,41.15],[1935,41.1],[1936,40.9],[1937,41.35],[1938,41.7],[1939,41.95],[1940,42.05],[1941,42.1],[1942,41.85],[1943,41.75],[1944,42.1],[1945,41.8],[1946,41.55],[1947,41.35],[1948,41.2],[1949,41.3],[1950,41.6],[1951,41.8],[1952,41.95],[1953,41.75],[1954,41.55],[1955,41.5],[1956,42.2],[1957,41.6],[1958,41.55],[1959,41.45],[1960,41.6],[1961,41.7],[1962,41.7],[1963,41.8],[1964,41.85],[1965,41.9],[1966,41.3],[1967,40.9],[1968,40.45],[1969,40.0],[1970,39.9],[1971,39.85],[1972,39.85],[1973,40.8],[1974,41.3],[1975,41.75],[1976,41.75],[1977,41.8],[1978,41.9],[1979,42.05],[1980,42.3],[1981,42.55],[1982,43.0],[1983,42.55],[1984,42.35],[1985,42.2],[1986,42.55],[1987,42.85],[1988,43.3],[1989,43.7],[1990,43.2],[1991,42.75],[1992,42.3],[1993,41.6],[1994,41.15],[1995,41.2],[1996,41.4],[1997,41.6],[1998,41.8],[1999,41.95],[2000,42.2],[2001,42.1],[2002,42.2],[2003,42.25],[2004,41.95],[2005,41.8],[2006,41.65],[2007,42.1],[2008,42.25]];
const sonCERA20C = [[1903,35.9],[1904,36.55],[1905,36.5],[1906,35.65],[1907,35.8],[1908,35.45],[1909,35.65],[1910,35.9],[1911,36.5],[1912,37.15],[1913,37.6],[1914,37.8],[1915,37.8],[1916,37.15],[1917,37.2],[1918,36.9],[1919,36.4],[1920,36.15],[1921,36.6],[1922,37.1],[1923,37.7],[1924,37.8],[1925,38.15],[1926,38.3],[1927,38.15],[1928,38.0],[1929,38.3],[1930,38.75],[1931,38.95],[1932,39.4],[1933,39.6],[1934,39.85],[1935,39.6],[1936,39.25],[1937,39.45],[1938,39.85],[1939,40.25],[1940,40.45],[1941,40.6],[1942,40.75],[1943,40.9],[1944,41.35],[1945,41.2],[1946,40.85],[1947,40.95],[1948,41.0],[1949,41.2],[1950,41.55],[1951,41.9],[1952,41.85],[1953,41.65],[1954,41.3],[1955,41.35],[1956,42.35],[1957,41.85],[1958,41.95],[1959,41.8],[1960,41.75],[1961,41.75],[1962,41.45],[1963,42.1],[1964,41.2],[1965,41.3],[1966,41.05],[1967,40.5],[1968,40.1],[1969,39.75],[1970,39.7],[1971,39.7],[1972,39.7],[1973,40.7],[1974,41.65],[1975,42.5],[1976,42.5],[1977,42.6],[1978,42.65],[1979,42.7],[1980,43.05],[1981,43.2],[1982,43.6],[1983,43.05],[1984,42.9],[1985,42.7],[1986,43.05],[1987,43.45],[1988,43.8],[1989,44.35],[1990,43.65],[1991,43.2],[1992,42.8],[1993,42.3],[1994,41.9],[1995,41.85],[1996,41.9],[1997,42.0],[1998,42.05],[1999,42.1],[2000,42.3],[2001,43.2],[2002,42.4],[2003,43.05],[2004,42.95],[2005,42.6],[2006,42.55],[2007,43.2],[2008,43.0]];
const sonERA20C = [[1902,35.4],[1903,35.2],[1904,36.05],[1905,35.85],[1906,34.7],[1907,34.95],[1908,34.4],[1909,34.65],[1910,34.95],[1911,35.55],[1912,36.4],[1913,37.0],[1914,37.05],[1915,37.3],[1916,36.8],[1917,36.4],[1918,35.9],[1919,35.1],[1920,34.65],[1921,35.0],[1922,35.5],[1923,36.45],[1924,36.75],[1925,37.0],[1926,37.0],[1927,36.9],[1928,36.7],[1929,36.9],[1930,37.35],[1931,38.05],[1932,38.3],[1933,38.6],[1934,38.8],[1935,38.5],[1936,38.25],[1937,38.65],[1938,39.0],[1939,39.3],[1940,39.6],[1941,39.7],[1942,39.6],[1943,39.95],[1944,40.35],[1945,40.4],[1946,40.5],[1947,40.6],[1948,40.8],[1949,41.0],[1950,41.3],[1951,41.85],[1952,42.25],[1953,42.05],[1954,41.95],[1955,41.85],[1956,41.9],[1957,42.55],[1958,42.0],[1959,42.2],[1960,42.0],[1961,42.15],[1962,41.65],[1963,42.1],[1964,41.5],[1965,41.65],[1966,41.0],[1967,40.55],[1968,40.1],[1969,39.95],[1970,39.8],[1971,39.8],[1972,39.85],[1973,41.0],[1974,41.85],[1975,42.6],[1976,42.75],[1977,42.7],[1978,42.75],[1979,42.75],[1980,43.25],[1981,43.6],[1982,43.9],[1983,43.5],[1984,43.45],[1985,43.15],[1986,43.4],[1987,43.75],[1988,44.0],[1989,44.65],[1990,44.1],[1991,43.6],[1992,43.05],[1993,42.6],[1994,42.2],[1995,42.15],[1996,42.15],[1997,42.5],[1998,42.7],[1999,42.85],[2000,42.9],[2001,43.95],[2002,43.2],[2003,43.7],[2004,43.5],[2005,43.35],[2006,43.25],[2007,43.95],[2008,43.65]];
const sonERA20CM = [[1902,42.45],[1903,42.5],[1904,42.55],[1905,42.5],[1906,42.45],[1907,42.4],[1908,42.3],[1909,41.85],[1910,42.25],[1911,42.1],[1912,42.3],[1913,42.45],[1914,41.95],[1915,42.4],[1916,41.9],[1917,42.2],[1918,42.45],[1919,42.3],[1920,42.45],[1921,42.1],[1922,42.1],[1923,42.15],[1924,42.2],[1925,42.3],[1926,42.4],[1927,42.2],[1928,42.3],[1929,42.35],[1930,42.4],[1931,42.35],[1932,42.75],[1933,42.65],[1934,42.5],[1935,42.4],[1936,42.1],[1937,41.95],[1938,42.4],[1939,42.45],[1940,42.5],[1941,42.25],[1942,42.1],[1943,42.05],[1944,41.8],[1945,41.65],[1946,41.95],[1947,42.0],[1948,41.7],[1949,41.8],[1950,41.55],[1951,41.85],[1952,41.9],[1953,42.15],[1954,42.25],[1955,42.3],[1956,42.45],[1957,42.55],[1958,42.9],[1959,43.05],[1960,43.1],[1961,43.05],[1962,42.95],[1963,42.7],[1964,42.4],[1965,42.15],[1966,41.95],[1967,41.8],[1968,41.6],[1969,41.95],[1970,42.4],[1971,42.3],[1972,42.45],[1973,42.5],[1974,42.4],[1975,42.6],[1976,42.8],[1977,42.75],[1978,42.8],[1979,42.8],[1980,42.85],[1981,42.95],[1982,43.3],[1983,43.05],[1984,42.7],[1985,42.75],[1986,42.8],[1987,42.75],[1988,42.7],[1989,42.4],[1990,42.65],[1991,42.45],[1992,42.7],[1993,42.85],[1994,42.8],[1995,42.95],[1996,42.65],[1997,42.4],[1998,42.3],[1999,42.2],[2000,42.25],[2001,42.35],[2002,42.3],[2003,42.25],[2004,42.2],[2005,42.1],[2006,42.1],[2007,42.3],[2008,42.5]];
const sonERA20CMhi = [[1902,43.42],[1904,43.15],[1906,43.26],[1907,43.21],[1910,42.94],[1912,43.47],[1913,43.64],[1914,43.26],[1916,42.94],[1918,43.05],[1920,43.15],[1921,43.69],[1922,43.05],[1924,43.37],[1926,44.33],[1928,44.12],[1929,43.37],[1931,42.94],[1933,43.26],[1935,43.37],[1937,43.37],[1939,43.58],[1940,43.85],[1942,43.26],[1943,42.94],[1945,42.72],[1946,43.58],[1948,43.15],[1949,42.72],[1951,42.94],[1953,43.37],[1956,43.47],[1958,43.8],[1960,43.47],[1963,43.26],[1965,43.37],[1967,43.05],[1970,43.37],[1972,43.15],[1974,43.42],[1976,43.37],[1978,43.15],[1980,43.47],[1981,43.15],[1984,43.26],[1986,43.47],[1988,43.64],[1990,43.26],[1992,43.47],[1994,43.42],[1996,43.64],[1998,43.05],[2000,42.99],[2002,43.05],[2005,42.94],[2006,43.15],[2008,43.37]];
const sonERA20CMlo = [[1902,41.65],[1904,41.43],[1906,41.22],[1908,41.06],[1910,41.33],[1912,41.54],[1914,41.43],[1915,41.22],[1918,41.11],[1920,41.22],[1922,40.9],[1924,41.06],[1925,41.0],[1927,41.22],[1929,41.43],[1932,41.22],[1934,41.43],[1936,41.0],[1938,41.43],[1941,41.11],[1943,40.79],[1945,40.57],[1948,40.9],[1950,41.0],[1951,40.68],[1953,41.11],[1956,41.22],[1958,41.22],[1960,41.11],[1963,41.33],[1965,41.22],[1967,41.0],[1970,41.22],[1972,41.43],[1974,41.65],[1977,41.86],[1979,41.43],[1981,41.76],[1984,41.97],[1986,41.86],[1988,41.97],[1991,41.86],[1993,41.86],[1995,41.86],[1998,41.76],[2000,41.38],[2002,41.43],[2005,41.43],[2007,41.65],[2008,41.86]];
const sonPreSAT = [[1941,39.25],[1942,39.5],[1943,40.7],[1944,41.65],[1945,42.1],[1946,41.95],[1947,42.25],[1948,42.45],[1949,42.7],[1950,43.0],[1951,43.5],[1952,43.85],[1953,43.8],[1954,43.45],[1955,43.5],[1956,43.6],[1957,44.25],[1958,43.7],[1959,43.85],[1960,43.6],[1961,43.8]];

// ---------------- ASSEMBLY ----------------
const panelSeries = [
  [djf20CR, djf20CRv2c, djfCERA20C, djfERA20C, djfERA20CM, djfPreSAT],
  [mam20CR, mam20CRv2c, mamCERA20C, mamERA20C, mamERA20CM, mamPreSAT],
  [jja20CR, jja20CRv2c, jjaCERA20C, jjaERA20C, jjaERA20CM, jjaPreSAT],
  [son20CR, son20CRv2c, sonCERA20C, sonERA20C, sonERA20CM, sonPreSAT]
];
const panelBandHi = [djfERA20CMhi, mamERA20CMhi, jjaERA20CMhi, sonERA20CMhi];
const panelBandLo = [djfERA20CMlo, mamERA20CMlo, jjaERA20CMlo, sonERA20CMlo];
const panelYTicks = [yTicksDJF, yTicksMAM, yTicksJJA, yTicksSON];
const ribbonSpreads = [spread20CR, spread20CRv2c, spreadCERA]; // datasets 0,1,2

// ---------------- LAYOUT ----------------
const svg = d3.select("#chart");
svg.append("rect").attr("width",3700).attr("height",2467).attr("fill","#fff");

const colX = [[196,1823],[2059,3686]];
const rowY = [[248,1010],[1319,2083]];
const lineW = 4.6, ribbonAlpha = 0.33;

const span = yearRange[1]-yearRange[0];
const xDomain = [yearRange[0]-0.05*span, yearRange[1]+0.05*span];

panelSeries.forEach((series, i) => {
  const [x0,x1] = colX[i%2];
  const [y0,y1] = rowY[Math.floor(i/2)];
  const lim = yLimits[i];
  const ext = 0.05*(lim[1]-lim[0]);
  const x = d3.scaleLinear().domain(xDomain).range([x0,x1]);
  const y = d3.scaleLinear().domain([lim[0]-ext, lim[1]+ext]).range([y1,y0]);
  const g = svg.append("g");

  g.append("rect").attr("x",x0).attr("y",y0).attr("width",x1-x0).attr("height",y1-y0).attr("fill","#EBEBEB");

  const yMinor = panelYTicks[i].slice(0,-1).map(v=>v+2.5);
  g.selectAll(".xminor").data(xMinorTicks).enter().append("line")
    .attr("x1",d=>x(d)).attr("x2",d=>x(d)).attr("y1",y0).attr("y2",y1)
    .attr("stroke","#fff").attr("stroke-width",2);
  g.selectAll(".yminor").data(yMinor).enter().append("line")
    .attr("y1",d=>y(d)).attr("y2",d=>y(d)).attr("x1",x0).attr("x2",x1)
    .attr("stroke","#fff").attr("stroke-width",2);
  g.selectAll(".xmajor").data(xTicks).enter().append("line")
    .attr("x1",d=>x(d)).attr("x2",d=>x(d)).attr("y1",y0).attr("y2",y1)
    .attr("stroke","#fff").attr("stroke-width",4);
  g.selectAll(".ymajor").data(panelYTicks[i]).enter().append("line")
    .attr("y1",d=>y(d)).attr("y2",d=>y(d)).attr("x1",x0).attr("x2",x1)
    .attr("stroke","#fff").attr("stroke-width",4);

  const clipId = "clip"+i;
  svg.append("clipPath").attr("id",clipId).append("rect")
    .attr("x",x0).attr("y",y0).attr("width",x1-x0).attr("height",y1-y0);
  const pg = g.append("g").attr("clip-path","url(#"+clipId+")");

  // ribbons
  [0,1,2].forEach(k => {
    const bp = ribbonSpreads[k];
    const sp = d3.scaleLinear().domain(bp.map(d=>d[0])).range(bp.map(d=>d[1])).clamp(true);
    const area = d3.area().x(d=>x(d[0])).y0(d=>y(d[1]-sp(d[0]))).y1(d=>y(d[1]+sp(d[0])));
    pg.append("path").attr("d",area(series[k])).attr("fill",datasetColors[k]).attr("fill-opacity",ribbonAlpha);
  });
  const bandPts = panelBandHi[i].concat(panelBandLo[i].slice().reverse());
  const poly = d3.line().x(d=>x(d[0])).y(d=>y(d[1]));
  pg.append("path").attr("d",poly(bandPts)+"Z").attr("fill",datasetColors[4]).attr("fill-opacity",ribbonAlpha);

  // lines
  const line = d3.line().x(d=>x(d[0])).y(d=>y(d[1]));
  series.forEach((s,k) => {
    pg.append("path").attr("d",line(s)).attr("fill","none")
      .attr("stroke",datasetColors[k]).attr("stroke-width",lineW)
      .attr("stroke-linejoin","round").attr("stroke-linecap","butt");
  });

  // axes
  const xAxis = d3.axisBottom(x).tickValues(xTicks).tickFormat(d3.format("d")).tickSize(12).tickPadding(14);
  const gx = g.append("g").attr("transform","translate(0,"+y1+")").call(xAxis);
  const yAxis = d3.axisLeft(y).tickValues(panelYTicks[i]).tickFormat(d3.format("d")).tickSize(12).tickPadding(14);
  const gy = g.append("g").attr("transform","translate("+x0+",0)").call(yAxis);
  [gx,gy].forEach(ax => {
    ax.select(".domain").remove();
    ax.selectAll(".tick line").attr("stroke","#333").attr("stroke-width",3);
    ax.selectAll(".tick text").attr("fill","#4D4D4D").style("font-size","59px")
      .style("font-family",'"Liberation Sans",Arial,sans-serif');
  });

  // axis titles
  g.append("text").attr("x",(x0+x1)/2).attr("y",y1+143).attr("text-anchor","middle")
    .style("font-size","64px").attr("fill","#000").text("Year");
  g.append("text").attr("transform","translate("+(x0-131)+","+((y0+y1)/2)+") rotate(-90)")
    .attr("text-anchor","middle").style("font-size","64px").attr("fill","#000")
    .text("Z500 filtered variability [m]");

  // panel title & letter
  g.append("text").attr("x",(x0+x1)/2).attr("y",y0-45).attr("text-anchor","middle")
    .style("font-size","87px").attr("fill","#000").text(seasonTitles[i]);
  g.append("text").attr("x",x0-175).attr("y",y0-60)
    .style("font-size","67px").style("font-weight","bold").attr("fill","#000").text(panelLetters[i]);
});

// main title (sized to the reference width, kept inside the top edge)
const title = svg.append("text").attr("x",1864).attr("y",95).attr("text-anchor","middle")
  .style("font-size","110px").attr("fill","#000")
  .text("2.5 - 6 day bandpass-filtered Z500 variability over NAE (1851-2014)");
const tw = title.node().getComputedTextLength();
let fs = 110;
if (tw > 0) fs = Math.min(112, 110*3224/tw);
title.style("font-size", fs.toFixed(1)+"px");
const bb = title.node().getBBox();
if (bb.y < 2) title.attr("y", 95 + (2 - bb.y));

// legend
const legend = svg.append("g");
legend.append("text").attr("x",1271).attr("y",2387).style("font-size","53px").attr("fill","#000").text("dataset");
const keyCols = [1472,1759,2079];
const keyRows = [2287,2373];
const labelCols = [1565,1852,2172];
const hasRibbon = [true,true,true,false,true,false];
datasetNames.forEach((name,k) => {
  const c = Math.floor(k/2), r = k%2;
  const kx = keyCols[c], ky = keyRows[r];
  legend.append("rect").attr("x",kx).attr("y",ky).attr("width",78).attr("height",77).attr("fill","#F2F2F2");
  if (hasRibbon[k]) legend.append("rect").attr("x",kx).attr("y",ky).attr("width",78).attr("height",77)
    .attr("fill",datasetColors[k]).attr("fill-opacity",ribbonAlpha);
  legend.append("line").attr("x1",kx+5).attr("x2",kx+73).attr("y1",ky+38.5).attr("y2",ky+38.5)
    .attr("stroke",datasetColors[k]).attr("stroke-width",lineW+1);
  legend.append("text").attr("x",labelCols[c]).attr("y",ky+54).style("font-size","42px").attr("fill","#000").text(name);
});
</script>
</body></html>
